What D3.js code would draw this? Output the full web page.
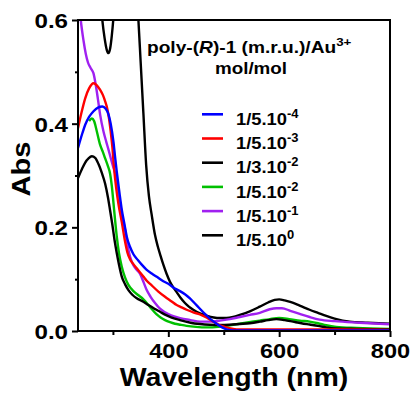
<!DOCTYPE html>
<html>
<head>
<meta charset="utf-8">
<script src="https://cdn.jsdelivr.net/npm/d3@7"></script>
<style>
  body { margin: 0; background: #fff; }
  svg text { font-family: "Liberation Sans", Arial, sans-serif; font-weight: bold; fill: #000; }
</style>
</head>
<body>
<div id="chart"></div>
<script>
// absorbance spectra, [wavelength nm, Abs]
var blue = [[237,0.353],[245,0.382],[250,0.398],[257,0.413],[265,0.424],[273,0.431],[281,0.433],[287,0.429],[292,0.418],[296,0.400],[301,0.365],[304,0.335],[307,0.307],[312,0.265],[316,0.234],[321,0.205],[325,0.182],[331,0.162],[337,0.148],[345,0.137],[352,0.128],[360,0.119],[370,0.111],[380,0.104],[391,0.096],[400,0.091],[412,0.082],[421,0.077],[430,0.071],[439,0.063],[448,0.053],[457,0.043],[466,0.033],[475,0.024],[487,0.014],[497,0.007],[505,0.003],[517,0.001],[600,0.001],[700,0.001],[800,0.001]];
var red = [[237,0.391],[243,0.420],[250,0.449],[257,0.468],[265,0.478],[271,0.474],[277,0.465],[282,0.455],[286,0.443],[290,0.428],[293,0.410],[296,0.385],[299,0.355],[302,0.315],[306,0.275],[310,0.245],[316,0.210],[322,0.172],[326,0.152],[331,0.138],[337,0.129],[343,0.121],[349,0.113],[355,0.105],[361,0.097],[370,0.088],[382,0.076],[394,0.066],[406,0.057],[415,0.050],[421,0.047],[433,0.041],[445,0.036],[457,0.032],[469,0.026],[481,0.018],[493,0.011],[505,0.007],[517,0.004],[529,0.003],[600,0.003],[700,0.003],[800,0.002]];
var blackLow = [[237,0.295],[244,0.312],[250,0.325],[256,0.333],[262,0.337],[268,0.334],[274,0.322],[280,0.305],[286,0.284],[291,0.258],[295,0.232],[299,0.205],[303,0.175],[307,0.150],[311,0.128],[316,0.105],[322,0.090],[328,0.079],[335,0.070],[343,0.063],[354,0.057],[364,0.050],[375,0.043],[385,0.037],[395,0.031],[406,0.026],[421,0.021],[440,0.016],[457,0.0135],[475,0.012],[493,0.0115],[510,0.012],[529,0.0135],[547,0.015],[565,0.018],[580,0.021],[595,0.023],[610,0.021],[625,0.018],[640,0.015],[655,0.0125],[670,0.010],[685,0.007],[703,0.005],[740,0.004],[800,0.003]];
var green = [[257,0.405],[262,0.410],[266,0.405],[271,0.385],[277,0.359],[282,0.345],[286,0.333],[291,0.318],[295,0.303],[298,0.280],[301,0.247],[304,0.213],[307,0.182],[311,0.150],[316,0.124],[322,0.103],[328,0.089],[337,0.077],[346,0.069],[355,0.061],[364,0.050],[372,0.040],[379,0.032],[386,0.026],[394,0.021],[403,0.017],[412,0.014],[422,0.012],[433,0.010],[450,0.008],[469,0.007],[490,0.008],[505,0.010],[517,0.012],[540,0.016],[565,0.020],[583,0.023],[600,0.025],[618,0.023],[637,0.020],[655,0.018],[670,0.015],[685,0.011],[703,0.008],[740,0.006],[800,0.004]];
var purple = [[237,0.66],[242,0.60],[247,0.56],[251,0.535],[255,0.518],[260,0.507],[265,0.497],[269,0.475],[273,0.447],[277,0.417],[283,0.385],[288,0.365],[292,0.350],[297,0.330],[301,0.315],[305,0.300],[309,0.275],[313,0.247],[317,0.220],[322,0.195],[326,0.168],[331,0.143],[337,0.127],[343,0.118],[349,0.110],[355,0.095],[361,0.079],[368,0.066],[376,0.054],[385,0.043],[394,0.036],[405,0.030],[421,0.025],[440,0.021],[457,0.018],[475,0.018],[493,0.020],[511,0.023],[529,0.027],[547,0.031],[565,0.035],[583,0.042],[595,0.044],[605,0.044],[620,0.039],[637,0.033],[655,0.027],[673,0.022],[700,0.019],[745,0.016],[800,0.013]];
var blackHigh = [[237,1.0],[260,0.9],[272,0.75],[280,0.61],[285,0.565],[289,0.542],[292,0.536],[295,0.545],[298,0.57],[302,0.62],[310,0.8],[325,0.95],[338,0.75],[343,0.65],[346,0.60],[350,0.52],[355,0.42],[360,0.32],[365,0.26],[370,0.224],[376,0.185],[381,0.163],[386,0.145],[391,0.128],[397,0.11],[403,0.095],[409,0.084],[415,0.075],[422,0.064],[430,0.054],[437,0.047],[445,0.041],[457,0.034],[470,0.029],[482,0.026],[493,0.025],[505,0.025],[517,0.027],[529,0.031],[547,0.038],[565,0.047],[580,0.055],[592,0.060],[600,0.061],[610,0.059],[620,0.056],[637,0.049],[655,0.041],[670,0.035],[685,0.029],[700,0.024],[727,0.018],[760,0.016],[800,0.014]];

var seriesNames = ["1/5.10", "1/5.10", "1/3.10", "1/5.10", "1/5.10", "1/5.10"];
var seriesExp = ["-4", "-3", "-2", "-2", "-1", "0"];
var seriesColors = ["#0000ff", "#ff0000", "#000000", "#00c000", "#a020f0", "#000000"];
var seriesData = [blue, red, blackLow, green, purple, blackHigh];

var xMajor = [400, 600, 800], xMinor = [300, 500, 700];
var yMajor = [0, 0.2, 0.4, 0.6], yMinor = [0.1, 0.3, 0.5];

var W = 412, H = 398;
var margin = {top: 20, right: 22, bottom: 67, left: 78};
var width = W - margin.left - margin.right,
    height = H - margin.top - margin.bottom;
var sx = 1.15; // glyphs in the source are a bit wider than Arial

var x = d3.scaleLinear().domain([237, 800]).range([0, width]);
var y = d3.scaleLinear().domain([0, 0.6]).range([height, 0]);

var svg = d3.select("#chart").append("svg")
    .attr("width", W).attr("height", H);

svg.append("defs").append("clipPath").attr("id", "clip")
  .append("rect").attr("width", width).attr("height", height);

var g = svg.append("g")
    .attr("transform", "translate(" + margin.left + "," + margin.top + ")");

var line = d3.line()
    .x(function(d) { return x(d[0]); })
    .y(function(d) { return y(d[1]); })
    .curve(d3.curveMonotoneX);

// draw order: big black first, blue on top
var order = [5, 4, 3, 2, 1, 0];
g.append("g").attr("clip-path", "url(#clip)")
  .selectAll("path").data(order).enter().append("path")
    .attr("d", function(i) { return line(seriesData[i]); })
    .attr("fill", "none")
    .attr("stroke", function(i) { return seriesColors[i]; })
    .attr("stroke-width", 2.4)
    .attr("stroke-linejoin", "round");

// frame
g.append("rect").attr("width", width).attr("height", height)
    .attr("fill", "none").attr("stroke", "#000").attr("stroke-width", 2);

// axes
function styleAxis(sel) {
  sel.select(".domain").remove();
  sel.selectAll("line").attr("stroke", "#000").attr("stroke-width", 2);
}
var xAxis = g.append("g").attr("transform", "translate(0," + height + ")")
    .call(d3.axisBottom(x).tickValues(xMajor).tickSize(6).tickPadding(6).tickFormat(d3.format("d")));
xAxis.call(styleAxis);
xAxis.selectAll("text").attr("font-size", 20.5).attr("transform", "scale(" + sx + ",1)");
g.append("g").attr("transform", "translate(0," + height + ")")
    .call(d3.axisBottom(x).tickValues(xMinor).tickSize(4).tickFormat(""))
    .call(styleAxis);

var yAxis = g.append("g")
    .call(d3.axisLeft(y).tickValues(yMajor).tickSize(6).tickPadding(0).tickFormat(d3.format(".1f")));
yAxis.call(styleAxis);
yAxis.selectAll("text").attr("font-size", 21).attr("x", -10 / sx).attr("dy", "0.36em")
    .attr("transform", "scale(" + sx + ",1)");
g.append("g")
    .call(d3.axisLeft(y).tickValues(yMinor).tickSize(3).tickFormat(""))
    .call(styleAxis);

// axis titles
svg.append("text")
    .attr("transform", "translate(" + (margin.left + width / 2) + ",386) scale(1.14,1)")
    .attr("text-anchor", "middle").attr("font-size", 25)
    .text("Wavelength (nm)");
svg.append("text")
    .attr("transform", "translate(30,169) rotate(-90) scale(1.14,1)")
    .attr("text-anchor", "middle").attr("font-size", 25.5)
    .text("Abs");

// legend title
var t1 = svg.append("text")
    .attr("transform", "translate(147,53) scale(1.16,1)")
    .attr("font-size", 16.5);
t1.append("tspan").text("poly-(");
t1.append("tspan").attr("font-style", "italic").text("R");
t1.append("tspan").text(")-1 (m.r.u.)/Au");
t1.append("tspan").attr("font-size", 11.5).attr("dy", -7).text("3+");
svg.append("text")
    .attr("transform", "translate(251,74) scale(1.14,1)")
    .attr("text-anchor", "middle").attr("font-size", 16.5)
    .text("mol/mol");

// legend entries
var legend = svg.append("g").selectAll("g").data(d3.range(6)).enter().append("g")
    .attr("transform", function(i) { return "translate(0," + (114.3 + i * 24.2) + ")"; });
legend.append("line")
    .attr("x1", 202).attr("x2", 223).attr("y1", 0).attr("y2", 0)
    .attr("stroke", function(i) { return seriesColors[i]; })
    .attr("stroke-width", 2.6);
var lt = legend.append("text")
    .attr("transform", "translate(236,10.7) scale(1.08,1)")
    .attr("font-size", 17);
lt.append("tspan").text(function(i) { return seriesNames[i]; });
lt.append("tspan").attr("font-size", 12).attr("dy", -7).text(function(i) { return seriesExp[i]; });
</script>
</body>
</html>
